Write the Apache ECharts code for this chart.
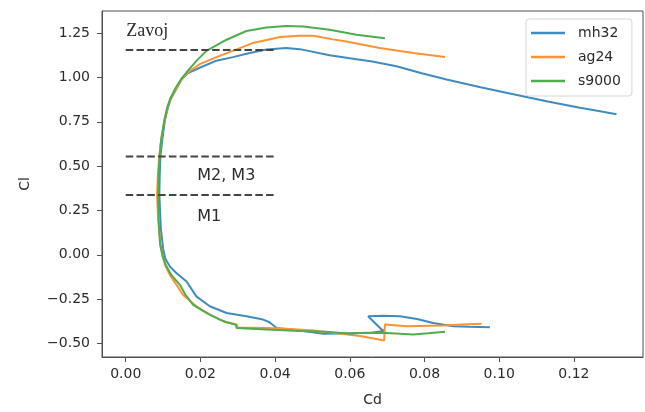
<!DOCTYPE html>
<html><head><meta charset="utf-8">
<script src="https://cdn.jsdelivr.net/npm/echarts@6/dist/echarts.min.js"></script>
<style>html,body{margin:0;padding:0;background:#fff}#c{width:645px;height:412px}</style>
</head><body><div id="c"></div>
<script>
// ---- tick labels ----
const xTicks = [0, 0.02, 0.04, 0.06, 0.08, 0.10, 0.12];
const yTicks = [-0.5, -0.25, 0, 0.25, 0.5, 0.75, 1.0, 1.25];

// ---- polars (Cd, Cl) ----
const mh32Cd = [0.0975,0.0920,0.0877,0.0823,0.0780,0.0734,0.0690,0.0649,0.0685,0.0694,0.0660,0.0627,0.0580,0.0529,0.0466,0.0404,0.0385,0.0368,0.0323,0.0270,0.0225,0.0189,0.0163,0.0136,0.0118,0.0106,0.0100,0.0094,0.0090,0.0091,0.0093,0.0098,0.0105,0.0113,0.0121,0.0134,0.0150,0.0167,0.0198,0.0243,0.0287,0.0332,0.0377,0.0430,0.0466,0.0546,0.0600,0.0660,0.0725,0.0790,0.0859,0.0950,0.1038,0.1130,0.1216,0.1270,0.1314];
const mh32Cl = [-0.408,-0.405,-0.402,-0.384,-0.362,-0.346,-0.344,-0.346,-0.421,-0.430,-0.438,-0.440,-0.443,-0.445,-0.427,-0.412,-0.380,-0.365,-0.346,-0.328,-0.290,-0.234,-0.150,-0.104,-0.065,-0.020,0.036,0.15,0.34,0.45,0.56,0.65,0.76,0.83,0.88,0.93,0.99,1.025,1.055,1.095,1.115,1.138,1.158,1.166,1.160,1.125,1.108,1.090,1.063,1.025,0.989,0.945,0.905,0.865,0.830,0.810,0.793];

const ag24Cd = [0.0953,0.0900,0.0850,0.0752,0.0694,0.0692,0.0660,0.0627,0.0555,0.0502,0.0440,0.0377,0.0300,0.0297,0.0261,0.0225,0.0189,0.0153,0.0136,0.0118,0.0106,0.0099,0.0093,0.0087,0.0084,0.0086,0.0090,0.0095,0.0104,0.0112,0.0120,0.0133,0.0150,0.0167,0.0198,0.0243,0.0287,0.0341,0.0413,0.0466,0.0502,0.0555,0.0591,0.0680,0.0770,0.0855];
const ag24Cl = [-0.389,-0.393,-0.398,-0.402,-0.393,-0.483,-0.470,-0.457,-0.440,-0.427,-0.418,-0.412,-0.410,-0.393,-0.374,-0.337,-0.290,-0.225,-0.169,-0.113,-0.060,-0.010,0.060,0.20,0.34,0.45,0.56,0.65,0.76,0.83,0.88,0.93,0.99,1.030,1.075,1.115,1.150,1.195,1.228,1.235,1.235,1.215,1.203,1.166,1.138,1.116];

const s9000Cd = [0.0855,0.0810,0.0770,0.0735,0.0698,0.0627,0.0600,0.0538,0.0466,0.0377,0.0297,0.0295,0.0270,0.0252,0.0225,0.0198,0.0180,0.0160,0.0145,0.0122,0.0108,0.0099,0.0092,0.0088,0.0087,0.0088,0.0091,0.0095,0.0104,0.0111,0.0119,0.0132,0.0148,0.0165,0.0190,0.0216,0.0270,0.0323,0.0377,0.0430,0.0475,0.0546,0.0618,0.0694];
const s9000Cl = [-0.434,-0.442,-0.449,-0.445,-0.440,-0.440,-0.445,-0.434,-0.430,-0.421,-0.412,-0.395,-0.380,-0.365,-0.337,-0.305,-0.281,-0.225,-0.169,-0.113,-0.060,-0.010,0.060,0.20,0.34,0.45,0.56,0.653,0.765,0.83,0.88,0.935,0.99,1.035,1.095,1.150,1.213,1.262,1.282,1.290,1.287,1.269,1.241,1.222];

// ---- reference levels and annotations ----
const refLevels = [1.155, 0.555, 0.338];
const refCdRange = [0, 0.04];
const annoText = ['Zavoj', 'M2, M3', 'M1'];
const annoCd = [0, 0.019, 0.019];
const annoCl = [1.26, 0.447, 0.214];

const zip = (a, b) => a.map((v, i) => [v, b[i]]);
const TXT = '#2b2b2b';
const AX = '#505050';
const FONT = 'DejaVu Sans';

const polar = (name, cd, cl, color) => ({
  name, type: 'line', data: zip(cd, cl), showSymbol: false, symbol: 'none',
  color, itemStyle: { color }, lineStyle: { width: 2, color }, z: 2, animation: false
});

const refSeries = refLevels.map(l => ({
  type: 'line', data: refCdRange.map(c => [c, l]), showSymbol: false, symbol: 'none',
  lineStyle: { width: 2, color: '#444', type: [7.5, 3.3] }, z: 3, animation: false, silent: true
}));

const annoSeries = {
  type: 'scatter', symbolSize: 1, z: 4, animation: false, silent: true,
  itemStyle: { opacity: 0 },
  data: annoText.map((t, i) => ({
    value: [annoCd[i], annoCl[i]], name: t,
    label: i === 0 ? { fontFamily: 'Liberation Serif', fontSize: 18 } : {}
  })),
  label: {
    show: true, position: 'right', distance: 0, formatter: p => p.name,
    color: TXT, opacity: 1, fontFamily: FONT, fontSize: 16
  }
};

const fmt = v => v.toFixed(2).replace('-', '\u2212');

const chart = echarts.init(document.getElementById('c'), null, { renderer: 'canvas' });
chart.setOption({
  animation: false,
  backgroundColor: '#fff',
  grid: { left: 102, right: 2, top: 11, bottom: 53, show: true, borderColor: AX, borderWidth: 1, containLabel: false },
  xAxis: {
    type: 'value', min: -0.00635, max: 0.1385,
    name: 'Cd', nameLocation: 'middle', nameGap: 36,
    nameTextStyle: { color: TXT, fontFamily: FONT, fontSize: 14 },
    axisLine: { show: true, onZero: false, lineStyle: { color: AX, width: 1 } },
    axisTick: { show: true, length: 5, customValues: xTicks, lineStyle: { color: AX } },
    axisLabel: { customValues: xTicks, formatter: fmt, color: TXT, fontFamily: FONT, fontSize: 14, margin: 10 },
    splitLine: { show: false }
  },
  yAxis: {
    type: 'value', min: -0.576, max: 1.375,
    name: 'Cl', nameLocation: 'middle', nameGap: 70,
    nameTextStyle: { color: TXT, fontFamily: FONT, fontSize: 14 },
    axisLine: { show: true, onZero: false, lineStyle: { color: AX, width: 1 } },
    axisTick: { show: true, length: 5, customValues: yTicks, lineStyle: { color: AX } },
    axisLabel: { customValues: yTicks, formatter: fmt, color: TXT, fontFamily: FONT, fontSize: 14, margin: 12 },
    splitLine: { show: false }
  },
  legend: {
    data: ['mh32', 'ag24', 's9000'],
    orient: 'vertical', left: 526, top: 19,
    icon: 'rect',
    padding: [6, 11, 7, 5], itemGap: 8, itemWidth: 34, itemHeight: 2.5,
    borderColor: '#d6d6d6', borderWidth: 1, borderRadius: 3, backgroundColor: '#fff',
    textStyle: { color: TXT, fontFamily: FONT, fontSize: 14, lineHeight: 16, padding: [0, 0, 0, 8] }
  },
  series: [
    polar('mh32', mh32Cd, mh32Cl, '#408bbf'),
    polar('ag24', ag24Cd, ag24Cl, '#ff9232'),
    polar('s9000', s9000Cd, s9000Cl, '#4cae4c'),
    ...refSeries,
    annoSeries
  ]
});
</script></body></html>
